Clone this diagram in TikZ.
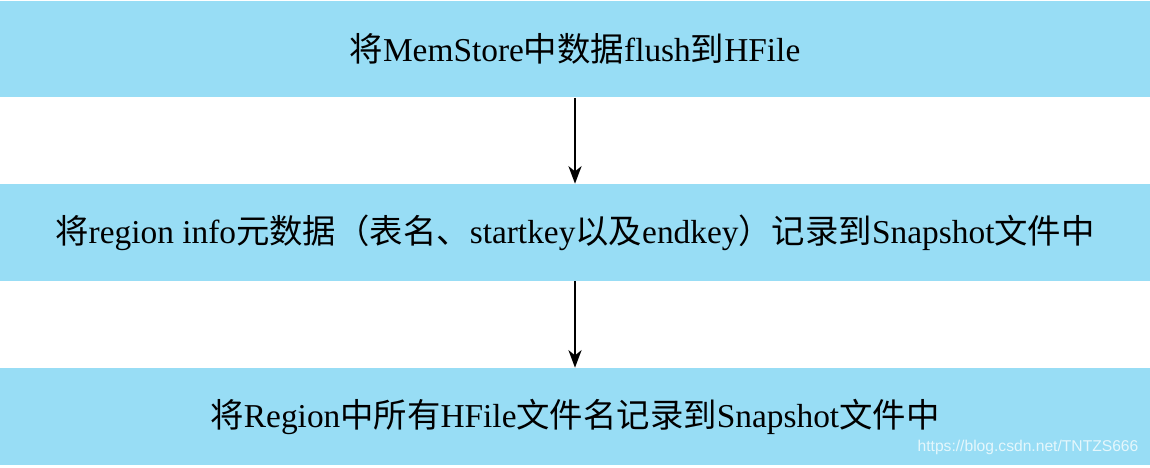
\documentclass[tikz,border=0pt]{standalone}
\usepackage{fontspec}
\setmainfont{Liberation Serif}
\newfontfamily\cjk{Noto Sans CJK SC}
\newfontfamily\wmfont{Liberation Sans}
\usetikzlibrary{arrows.meta}
\definecolor{stageblue}{RGB}{152,221,245}
\newcommand{\zh}[1]{{\cjk #1}}
\tikzset{stage/.style={fill=stageblue,minimum width=23cm,minimum height=1.94cm,inner sep=0pt,font=\fontsize{19}{23}\selectfont}}
\begin{document}
\begin{tikzpicture}[x=0.02cm,y=-0.02cm]
\useasboundingbox (0,0) rectangle (1150,467);
\node[stage] (s1) at (575,49) {\zh{将}MemStore\zh{中数据}flush\zh{到}HFile};
\node[stage] (s2) at (575,232.5) {\zh{将}region info\zh{元数据（表名、}startkey\zh{以及}endkey\zh{）记录到}Snapshot\zh{文件中}};
\node[stage] (s3) at (575,416.5) {\zh{将}Region\zh{中所有}HFile\zh{文件名记录到}Snapshot\zh{文件中}};
\draw[line width=1pt,-{Stealth[length=10pt,width=7.5pt,inset=3pt]}] (s1) -- (s2);
\draw[line width=1pt,-{Stealth[length=10pt,width=7.5pt,inset=3pt]}] (s2) -- (s3);
\node[font=\wmfont\fontsize{8.9}{10}\selectfont,text=white!75!stageblue] (wm) at (1028,447) {https://blog.csdn.net/TNTZS666};
\end{tikzpicture}
\end{document}
